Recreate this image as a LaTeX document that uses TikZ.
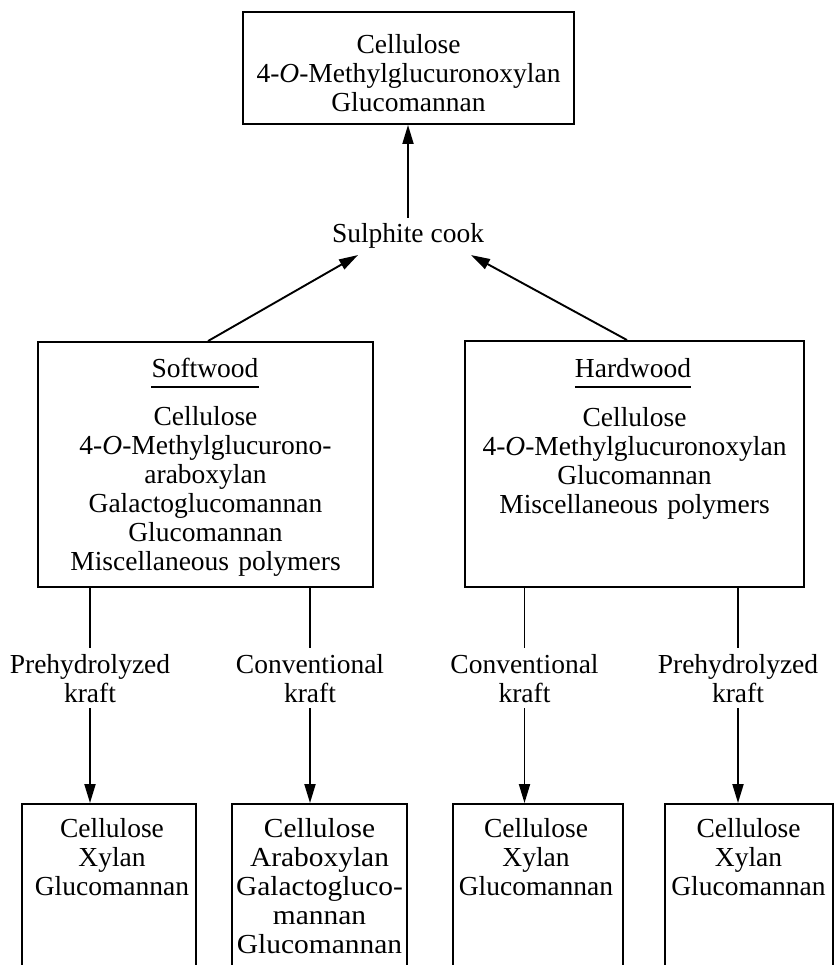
\documentclass[tikz,border=0pt]{standalone}
\usepackage{fontspec}
\setmainfont{Liberation Serif}
\newfontfamily\widefont{Liberation Serif}[FakeStretch=1.07]
\usetikzlibrary{arrows.meta}
\newcommand\diafont{\fontsize{27.5}{29}\selectfont}
\begin{document}
\begin{tikzpicture}[x=1pt,y=-1pt,
  every node/.style={font=\diafont},
  box/.style={draw, line width=1.9pt, inner sep=0pt},
  txt/.style={align=center, inner sep=0pt, text width=#1, anchor=base},
  lbl/.style={align=center, inner xsep=0pt, inner ysep=6pt, text width=180pt, anchor=base},
  conn/.style={line width=1.9pt},
  arr/.style={conn, -{Triangle[length=19pt,width=11pt]}},
  uline/.style={line width=2.4pt}]
\useasboundingbox (0,0) rectangle (837,965);

% top box
\node[box, minimum width=331pt, minimum height=112pt] (top) at (408.5,68) {};
\node[txt=325pt] (toptxt) at (408.5,54) {Cellulose\\4-\textit{O}-Methylglucuronoxylan\\Glucomannan};

% sulphite cook
\node[inner sep=6pt, anchor=base] (cook) at (408,243) {Sulphite cook};
\draw[arr] (cook.north) -- (cook.north |- top.south);

% softwood
\node[box, minimum width=335pt, minimum height=245pt] (soft) at (205.5,464.5) {};
\node[anchor=base, inner sep=0pt] (softtitle) at (205,377) {Softwood};
\draw[uline] ([yshift=-10pt]softtitle.base west) -- ([yshift=-10pt]softtitle.base east);
\node[txt=325pt] (softtxt) at (205.5,425) {Cellulose\\4-\textit{O}-Methylglucurono-\\araboxylan\\Galactoglucomannan\\Glucomannan\\Miscellaneous polymers};

% hardwood
\node[box, minimum width=339pt, minimum height=246pt] (hard) at (634.5,464) {};
\node[anchor=base, inner sep=0pt] (hardtitle) at (633,377) {Hardwood};
\draw[uline] ([yshift=-10pt]hardtitle.base west) -- ([yshift=-10pt]hardtitle.base east);
\node[txt=330pt] (hardtxt) at (634.5,426) {Cellulose\\4-\textit{O}-Methylglucuronoxylan\\Glucomannan\\Miscellaneous polymers};

\draw[arr] ([xshift=2.5pt]soft.north) -- ([xshift=-50pt]cook.south);
\draw[arr] ([xshift=-7.5pt]hard.north) -- ([xshift=63pt]cook.south);

% process labels
\node[lbl] (l1) at (90,673) {Prehydrolyzed\\kraft};
\node[lbl] (l2) at (310,673) {Conventional\\kraft};
\node[lbl] (l3) at (524.5,673) {Conventional\\kraft};
\node[lbl] (l4) at (738,673) {Prehydrolyzed\\kraft};

% bottom boxes (run off the bottom edge)
\node[box, minimum width=174pt, minimum height=171pt] (b1) at (109,889.5) {};
\node[box, minimum width=175pt, minimum height=171pt] (b2) at (319.5,889.5) {};
\node[box, minimum width=170pt, minimum height=171pt] (b3) at (538,889.5) {};
\node[box, minimum width=168pt, minimum height=171pt] (b4) at (749,889.5) {};

\node[txt=165pt] (b1txt) at (112,837) {Cellulose\\Xylan\\Glucomannan};
\node[txt=172pt, font=\widefont\diafont] (b2txt) at (319.5,837) {Cellulose\\Araboxylan\\Galactogluco-\\mannan\\Glucomannan};
\node[txt=165pt] (b3txt) at (536,837) {Cellulose\\Xylan\\Glucomannan};
\node[txt=165pt] (b4txt) at (748.5,837) {Cellulose\\Xylan\\Glucomannan};

% connectors
\draw[conn] (soft.south -| l1) -- (l1.north);
\draw[conn] (soft.south -| l2) -- (l2.north);
\draw[conn] (hard.south -| l3) -- (l3.north);
\draw[conn] (hard.south -| l4) -- (l4.north);
\draw[arr] (l1.south) -- (l1.south |- b1.north);
\draw[arr] (l2.south) -- (l2.south |- b2.north);
\draw[arr] (l3.south) -- (l3.south |- b3.north);
\draw[arr] (l4.south) -- (l4.south |- b4.north);
\end{tikzpicture}
\end{document}
